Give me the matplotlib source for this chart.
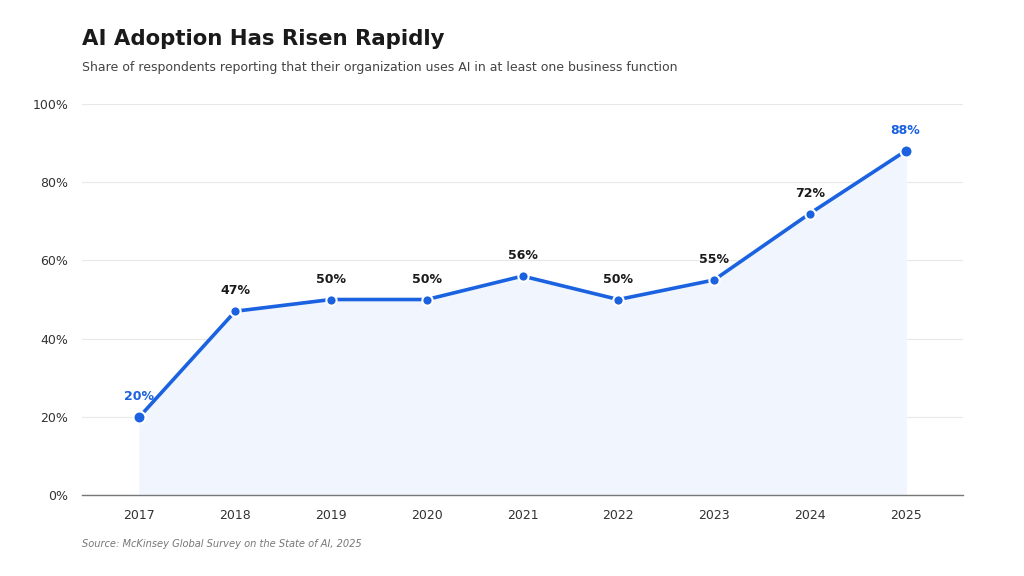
import matplotlib.pyplot as plt

years = [2017, 2018, 2019, 2020, 2021, 2022, 2023, 2024, 2025]
adoption = [20, 47, 50, 50, 56, 50, 55, 72, 88]
y_ticks = [0, 20, 40, 60, 80, 100]

blue = "#1a62e0"

fig = plt.figure(figsize=(10.24, 5.76), dpi=100)
ax = fig.add_axes([0.0801, 0.1406, 0.8604, 0.6788])

ax.fill_between(years, adoption, 0, color="#f0f5fe", zorder=1)
ax.plot(years, adoption, color=blue, lw=2.6, zorder=3)
ax.scatter(years[1:-1], adoption[1:-1], s=55, color=blue, edgecolor="white",
           linewidth=1.5, zorder=4)
ax.scatter([years[0], years[-1]], [adoption[0], adoption[-1]], s=75, color=blue,
           edgecolor="white", linewidth=1.5, zorder=4)

for i, (x, y) in enumerate(zip(years, adoption)):
    c = blue if i in (0, len(years) - 1) else "#1a1a1a"
    ax.annotate(f"{y}%", (x, y), xytext=(0, 10), textcoords="offset points",
                ha="center", va="bottom", fontsize=9, fontweight="bold", color=c)

ax.set_xlim(2016.4, 2025.6)
ax.set_ylim(0, 100)
ax.set_xticks(years)
ax.set_yticks(y_ticks)
ax.set_yticklabels([f"{t}%" for t in y_ticks])
ax.tick_params(axis="both", length=0, labelsize=9, colors="#333333")
ax.tick_params(axis="x", pad=10)
ax.tick_params(axis="y", pad=10)
ax.grid(axis="y", color="#e8e8e8", lw=0.8, zorder=0)
ax.set_axisbelow(True)
for s in ["top", "right", "left"]:
    ax.spines[s].set_visible(False)
ax.spines["bottom"].set_color("#777777")
ax.spines["bottom"].set_linewidth(1.0)

fig.text(0.0801, 0.932, "AI Adoption Has Risen Rapidly", fontsize=15.3,
         fontweight="bold", color="#1a1a1a", va="center")
fig.text(0.0801, 0.882, "Share of respondents reporting that their organization "
         "uses AI in at least one business function", fontsize=9,
         color="#444444", va="center")
fig.text(0.0801, 0.056, "Source: McKinsey Global Survey on the State of AI, 2025",
         fontsize=7.1, style="italic", color="#777777", va="center")

fig.savefig("out.png", dpi=100)
